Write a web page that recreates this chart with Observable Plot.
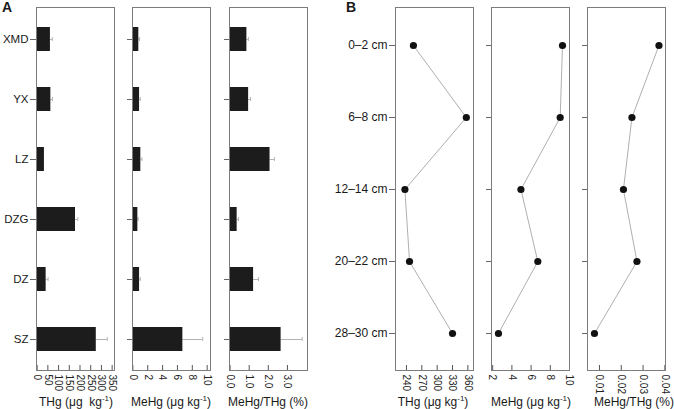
<!DOCTYPE html>
<html><head><meta charset="utf-8">
<script src="https://cdn.jsdelivr.net/npm/d3@7"></script>
<script src="https://cdn.jsdelivr.net/npm/@observablehq/plot@0.6"></script>
<style>
body{margin:0;background:#fff;}
#wrap{position:relative;width:674px;height:409px;overflow:hidden;font-family:"Liberation Sans",Arial,Helvetica,sans-serif;color:#1a1a1a;}
#wrap svg{position:absolute;top:0;}
.t{position:absolute;top:396px;font-size:12px;line-height:12px;white-space:pre;transform:translateX(-50%);}
.t sup{font-size:8px;line-height:0;vertical-align:5px;}
.letter{position:absolute;top:0px;font-weight:bold;font-size:14px;line-height:14px;}
</style></head>
<body><div id="wrap"></div>
<script>
// ---- Panel A data (sites) ----
const sites = ["XMD","YX","LZ","DZG","DZ","SZ"];
const siteTHg = [62,64,34,179,42,276];
const siteTHgErr = [9,8,0,11,9,51];
const siteMeHg = [0.8,0.9,1.07,0.67,0.9,6.73];
const siteMeHgErr = [0.1,0.1,0.15,0.05,0.1,2.67];
const siteRatio = [0.88,0.97,2.09,0.37,1.23,2.67];
const siteRatioErr = [0.08,0.1,0.23,0.07,0.26,1.1];
const ticksA_THg = [0,50,100,150,200,250,300,350];
const ticksA_MeHg = [0,2,4,6,8,10];
const ticksA_Ratio = [0,1,2,3];
// ---- Panel B data (core depths) ----
const depths = ["0–2 cm","6–8 cm","12–14 cm","20–22 cm","28–30 cm"];
const coreTHg = [253.6,357,237,246,330];
const coreMeHg = [9.27,9.03,4.94,6.7,2.6];
const coreRatio = [0.0373,0.0249,0.0210,0.0272,0.0077];
const ticksB_THg = [240,270,300,330,360];
const ticksB_MeHg = [2,4,6,8,10];
const ticksB_Ratio = [0.01,0.02,0.03,0.04];

const FONT = '"Liberation Sans", Arial, Helvetica, sans-serif';
const wrap = document.getElementById("wrap");
const FRAME_W = 78;

function place(svg, left){ svg.style.left = left + "px"; wrap.appendChild(svg); }

function barPanel(o){
  const data = sites.map((s,i)=>({site:s, v:o.values[i], e:o.errs[i]}));
  const svg = Plot.plot({
    width: o.marginLeft + FRAME_W + o.marginRight, height: 409,
    marginTop: 7, marginBottom: 39, marginLeft: o.marginLeft, marginRight: o.marginRight,
    style: {fontFamily: FONT, background: "transparent", overflow: "visible"},
    x: {domain: o.domain},
    y: {domain: sites, paddingInner: 0.6, paddingOuter: 0.3},
    marks: [
      Plot.ruleY(data, {y: "site", x1: "v", x2: d => d.v + d.e, stroke: "#a0a0a0", strokeWidth: 0.8}),
      Plot.tickX(data.filter(d => d.e > 0), {x: d => d.v + d.e, y: "site", stroke: "#a0a0a0", strokeWidth: 0.8, insetTop: 10, insetBottom: 10}),
      Plot.barX(data, {y: "site", x1: 0, x2: "v", fill: "#1c1c1c"}),
      Plot.ruleX(o.ticks, {x: d => d, insetTop: 358, stroke: "#555"}),
      Plot.frame({stroke: "#7c7c7c"}),
      Plot.axisX(o.ticks, {tickSize: 0, tickPadding: 4, tickRotate: 90, tickFormat: o.tickFormat, fontSize: 10, fill: "#222", label: null}),
      Plot.axisY({tickSize: o.showLabels ? 6 : 5, tickPadding: 2, fontSize: 11.5, fill: "#1a1a1a", stroke: "#666",
                  tickFormat: o.showLabels ? (d => d) : (() => ""), label: null})
    ]
  });
  place(svg, o.left);
}

function linePanel(o){
  const data = depths.map((d,i)=>({depth:d, v:o.values[i]}));
  const svg = Plot.plot({
    width: o.marginLeft + FRAME_W + o.marginRight, height: 409,
    marginTop: 7, marginBottom: 39, marginLeft: o.marginLeft, marginRight: o.marginRight,
    style: {fontFamily: FONT, background: "transparent", overflow: "visible"},
    x: {domain: o.domain},
    y: {type: "point", domain: depths, padding: 0.5},
    marks: [
      Plot.line(data, {x: "v", y: "depth", stroke: "#9a9a9a", strokeWidth: 0.8}),
      Plot.dot(data, {x: "v", y: "depth", r: 3.6, fill: "#111", stroke: "none"}),
      Plot.ruleX(o.ticks, {x: d => d, insetTop: 358, stroke: "#555"}),
      Plot.frame({stroke: "#7c7c7c"}),
      Plot.axisX(o.ticks, {tickSize: 0, tickPadding: 4, tickRotate: 90, tickFormat: o.tickFormat, fontSize: 10, fill: "#222", label: null}),
      Plot.axisY({tickSize: o.showLabels ? 6 : 5, tickPadding: 2, fontSize: 12, fill: "#1a1a1a", stroke: "#666",
                  tickFormat: o.showLabels ? (d => d) : (() => ""), label: null})
    ]
  });
  place(svg, o.left);
}

barPanel({left: 0, marginLeft: 36, marginRight: 4, values: siteTHg, errs: siteTHgErr, domain: [-3, 361], ticks: ticksA_THg, tickFormat: d => String(d), showLabels: true});
barPanel({left: 118, marginLeft: 14, marginRight: 4, values: siteMeHg, errs: siteMeHgErr, domain: [-0.05, 10.45], ticks: ticksA_MeHg, tickFormat: d => String(d), showLabels: false});
barPanel({left: 214, marginLeft: 15, marginRight: 4, values: siteRatio, errs: siteRatioErr, domain: [-0.03, 4.05], ticks: ticksA_Ratio, tickFormat: d => d.toFixed(1), showLabels: false});

linePanel({left: 311, marginLeft: 84, marginRight: 4, values: coreTHg, domain: [218.6, 371], ticks: ticksB_THg, tickFormat: d => String(d), showLabels: true});
linePanel({left: 477, marginLeft: 14, marginRight: 4, values: coreMeHg, domain: [1.875, 10], ticks: ticksB_MeHg, tickFormat: d => String(d), showLabels: false});
linePanel({left: 573, marginLeft: 14, marginRight: 9, values: coreRatio, domain: [0.0045, 0.0403], ticks: ticksB_Ratio, tickFormat: d => d.toFixed(2), showLabels: false});

// titles & panel letters
const titles = [
  [76, 'THg (μg  kg<sup>-1</sup>)'],
  [171, 'MeHg (μg kg<sup>-1</sup>)'],
  [268, 'MeHg/THg (%)'],
  [433, 'THg (μg kg<sup>-1</sup>)'],
  [531, 'MeHg (μg kg<sup>-1</sup>)'],
  [634, 'MeHg/THg (%)']
];
for (const [x, html] of titles) {
  const d = document.createElement("div");
  d.className = "t"; d.style.left = x + "px"; d.innerHTML = html;
  wrap.appendChild(d);
}
for (const [x, s] of [[2, "A"], [346, "B"]]) {
  const d = document.createElement("div");
  d.className = "letter"; d.style.left = x + "px"; d.textContent = s;
  wrap.appendChild(d);
}
</script></body></html>
